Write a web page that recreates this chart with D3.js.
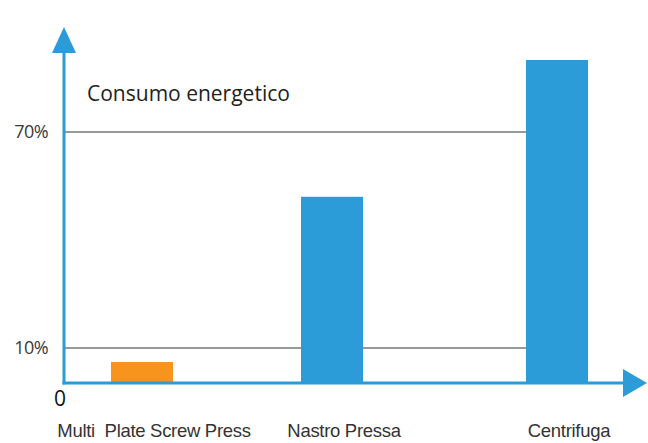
<!DOCTYPE html>
<html>
<head>
<meta charset="utf-8">
<script src="https://cdn.jsdelivr.net/npm/d3@7"></script>
<style>
  body { margin: 0; background: #fff; }
  svg { display: block; }
</style>
</head>
<body>
<svg id="chart" width="648" height="443"></svg>
<script>
// data
const categories = ["Multi  Plate Screw Press", "Nastro Pressa", "Centrifuga"];
const values = [6, 52, 90];
const barColors = ["#f7941e", "#2b9cd8", "#2b9cd8"];
const tickValues = [10, 70];
const tickLabels = ["10%", "70%"];
const title = "Consumo energetico";

const blue = "#2b9cd8";
const svg = d3.select("#chart");

const x0 = 64, y0 = 383;

// the picture's value axis is not linear, so use a polylinear scale
const yScale = d3.scaleLinear().domain([0, 10, 70]).range([y0, 348, 132]);
// bar positions are uneven in the picture
const xScale = d3.scaleOrdinal().domain(categories).range([111, 301, 526]);
const barWidth = 62;

// grid lines, stop at the last bar
svg.selectAll("line.grid")
  .data(tickValues)
  .enter()
  .append("line")
  .attr("class", "grid")
  .attr("x1", x0)
  .attr("x2", xScale(categories[2]))
  .attr("y1", function (d) { return yScale(d); })
  .attr("y2", function (d) { return yScale(d); })
  .style("stroke", "#777")
  .style("stroke-width", 1.5);

// bars
svg.selectAll("rect.bar")
  .data(values)
  .enter()
  .append("rect")
  .attr("class", "bar")
  .attr("x", function (d, i) { return xScale(categories[i]); })
  .attr("y", function (d) { return yScale(d); })
  .attr("width", barWidth)
  .attr("height", function (d) { return y0 - yScale(d); })
  .style("fill", function (d, i) { return barColors[i]; });

// axes with arrows
svg.append("line")
  .attr("x1", x0).attr("x2", x0)
  .attr("y1", y0 + 1.5).attr("y2", 50)
  .style("stroke", blue).style("stroke-width", 3);
svg.append("path")
  .attr("d", d3.line()([[52, 53], [76, 53], [64, 27]]) + "Z")
  .style("fill", blue);

svg.append("line")
  .attr("x1", x0 - 1.5).attr("x2", 625)
  .attr("y1", y0).attr("y2", y0)
  .style("stroke", blue).style("stroke-width", 3);
svg.append("path")
  .attr("d", d3.line()([[623, 369], [623, 397], [647, 383]]) + "Z")
  .style("fill", blue);

// tick labels
svg.selectAll("text.tick")
  .data(tickValues)
  .enter()
  .append("text")
  .attr("class", "tick")
  .attr("x", 48)
  .attr("y", function (d) { return yScale(d); })
  .attr("dy", "0.36em")
  .attr("text-anchor", "end")
  .style("font-family", "'Open Sans', sans-serif")
  .style("font-size", "18px")
  .style("fill", "#3a3a3a")
  .style("letter-spacing", "-0.6px")
  .text(function (d, i) { return tickLabels[i]; });

svg.append("text")
  .attr("x", 60)
  .attr("y", 406)
  .attr("text-anchor", "middle")
  .style("font-family", "'Open Sans', sans-serif")
  .style("font-size", "21px")
  .style("fill", "#111")
  .text("0");

// category labels
svg.selectAll("text.cat")
  .data(categories)
  .enter()
  .append("text")
  .attr("class", "cat")
  .attr("x", function (d) { return xScale(d) + barWidth / 2 + 12; })
  .attr("y", 437)
  .attr("text-anchor", "middle")
  .style("font-family", "'Liberation Sans', sans-serif")
  .style("font-size", "18.5px")
  .style("fill", "#333")
  .style("letter-spacing", "-0.3px")
  .style("white-space", "pre")
  .attr("xml:space", "preserve")
  .text(function (d) { return d; });

// title
svg.append("text")
  .attr("x", 87)
  .attr("y", 101)
  .style("font-family", "'Open Sans', sans-serif")
  .style("font-size", "21px")
  .style("fill", "#222")
  .text(title);
</script>
</body>
</html>
